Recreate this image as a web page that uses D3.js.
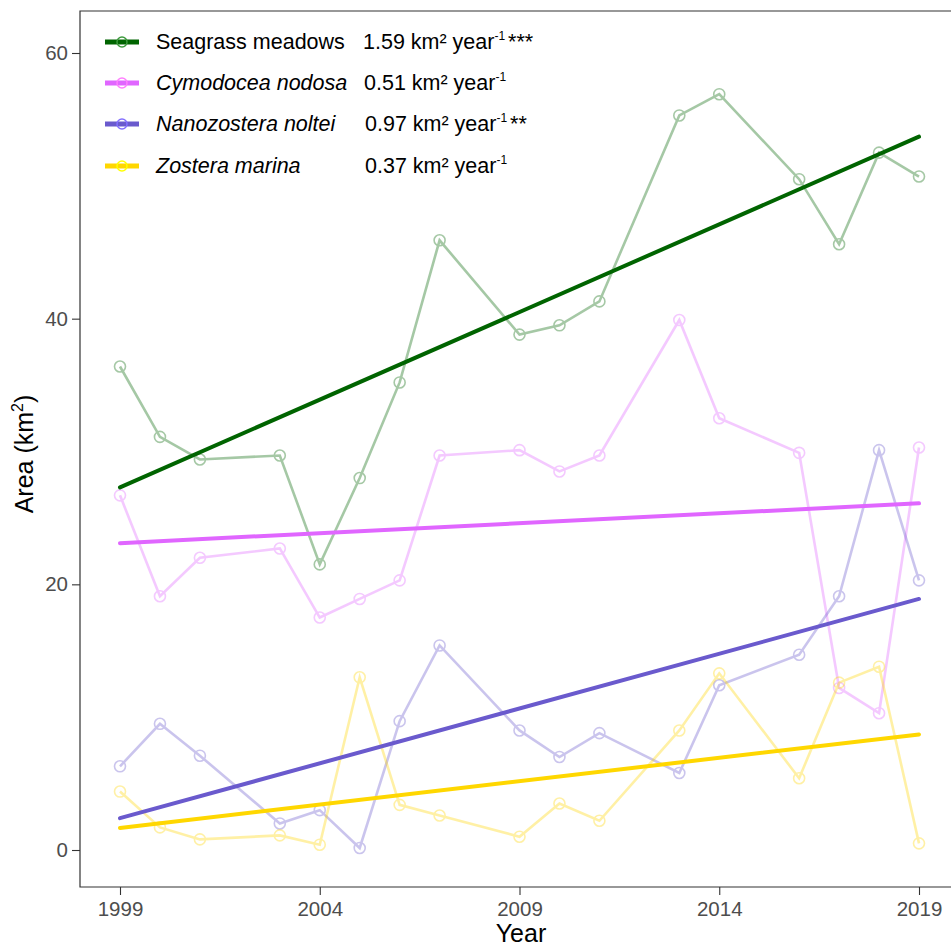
<!DOCTYPE html>
<html>
<head>
<meta charset="utf-8">
<script src="https://cdn.jsdelivr.net/npm/d3@7"></script>
<style>
  body { margin: 0; background: #fff; }
  svg { display: block; font-family: "Liberation Sans", Arial, sans-serif; }
</style>
</head>
<body>
<div id="chart"></div>
<script>
// seagrass area per year, with fitted linear trends
const years = [1999, 2000, 2001, 2003, 2004, 2005, 2006, 2007, 2009, 2010, 2011, 2013, 2014, 2016, 2017, 2018, 2019];
const seagrass = [36.4, 31.1, 29.4, 29.7, 21.5, 28.0, 35.2, 45.9, 38.8, 39.5, 41.3, 55.3, 56.9, 50.5, 45.6, 52.5, 50.7];
const cymodocea = [26.7, 19.1, 22.0, 22.7, 17.5, 18.9, 20.3, 29.7, 30.1, 28.5, 29.7, 39.9, 32.5, 29.9, 12.2, 10.3, 30.3];
const nanozostera = [6.3, 9.5, 7.1, 2.0, 3.0, 0.15, 9.7, 15.4, 9.0, 7.0, 8.8, 5.8, 12.4, 14.7, 19.1, 30.1, 20.3];
const zostera = [4.4, 1.7, 0.8, 1.1, 0.4, 13.0, 3.4, 2.6, 1.0, 3.5, 2.2, 9.0, 13.3, 5.4, 12.6, 13.8, 0.5];
// trend line values at 1999 and 2019
const trendStart = [27.3, 23.1, 2.4, 1.66];
const trendEnd = [53.7, 26.1, 18.9, 8.7];
const names = ["Seagrass meadows", "Cymodocea nodosa", "Nanozostera noltei", "Zostera marina"];
const italic = [false, true, true, true];
const rates = ["1.59", "0.51", "0.97", "0.37"];
const stars = ["***", "", "**", ""];
const colors = ["#006400", "#e066ff", "#6a5acd", "#ffd700"];
const xTicks = [1999, 2004, 2009, 2014, 2019];
const yTicks = [0, 20, 40, 60];

const W = 951, H = 947;
const margin = { top: 11, right: 0, bottom: 60, left: 80 };
const series = [seagrass, cymodocea, nanozostera, zostera];

const svg = d3.select("#chart").append("svg").attr("width", W).attr("height", H);

const x = d3.scaleLinear().domain([1999, 2019]).range([120, 919]);
const y = d3.scaleLinear().domain([0, 60]).range([850, 53]);

// panel frame (left, top, bottom)
svg.append("path").attr("fill", "none").attr("stroke", "#333").attr("stroke-width", 1.2)
  .attr("d", `M${W},${margin.top}H${margin.left}V${H - margin.bottom}H${W}`);

const gx = svg.append("g").attr("transform", `translate(0,${H - margin.bottom})`)
  .call(d3.axisBottom(x).tickValues(xTicks).tickFormat(d3.format("d")).tickSize(8).tickPadding(6));
const gy = svg.append("g").attr("transform", `translate(${margin.left},0)`)
  .call(d3.axisLeft(y).tickValues(yTicks).tickSize(8).tickPadding(4));
[gx, gy].forEach(g => {
  g.select(".domain").remove();
  g.selectAll(".tick line").attr("stroke", "#333").attr("stroke-width", 1.1);
  g.selectAll(".tick text").attr("fill", "#4d4d4d").attr("font-size", 20.5)
    .attr("font-family", "'Liberation Sans', Arial, sans-serif");
});

svg.append("text").attr("x", 521).attr("y", 942).attr("text-anchor", "middle")
  .attr("font-size", 25).attr("fill", "#000").text("Year");
const yt = svg.append("text").attr("transform", "translate(33,454) rotate(-90)").attr("text-anchor", "middle")
  .attr("font-size", 25).attr("fill", "#000");
yt.append("tspan").text("Area (km");
yt.append("tspan").attr("dy", -10).attr("font-size", 16).text("2");
yt.append("tspan").attr("dy", 10).text(")");

const line = d3.line().x((d, i) => x(years[i])).y(d => y(d));

// observed series, faded
series.forEach((vals, s) => {
  const g = svg.append("g").attr("opacity", 0.35);
  g.append("path").attr("fill", "none").attr("stroke", colors[s]).attr("stroke-width", 2.6)
    .attr("d", line(vals));
  g.selectAll("circle").data(vals).join("circle")
    .attr("cx", (d, i) => x(years[i])).attr("cy", d => y(d)).attr("r", 5.5)
    .attr("fill", "none").attr("stroke", colors[s]).attr("stroke-width", 1.6);
});

// trend lines
series.forEach((vals, s) => {
  svg.append("line")
    .attr("x1", x(1999)).attr("y1", y(trendStart[s]))
    .attr("x2", x(2019)).attr("y2", y(trendEnd[s]))
    .attr("stroke", colors[s]).attr("stroke-width", 4).attr("stroke-linecap", "round");
});

// legend
const leg = svg.append("g");
const legY = [42, 83, 124, 166];
const rateX = [363, 364, 365, 365];
names.forEach((n, i) => {
  const row = leg.append("g").attr("transform", `translate(0,${legY[i]})`);
  row.append("line").attr("x1", 105).attr("x2", 139).attr("stroke", colors[i]).attr("stroke-width", 5);
  row.append("circle").attr("cx", 122).attr("r", 5).attr("fill", "none")
    .attr("stroke", i === 0 ? "#3c9a3c" : d3.color(colors[i]).brighter(0.6)).attr("stroke-width", 1.5);
  row.append("text").attr("x", 156).attr("y", 7).attr("font-size", 21.5)
    .attr("font-style", italic[i] ? "italic" : "normal").attr("fill", "#000").text(n);
  const t = row.append("text").attr("x", rateX[i]).attr("y", 7).attr("font-size", 21.5).attr("fill", "#000");
  t.append("tspan").text(`${rates[i]} km² year`);
  t.append("tspan").attr("dy", -9).attr("font-size", 12).text("-1");
  if (stars[i]) t.append("tspan").attr("dy", 9).attr("dx", 3).attr("font-size", 21.5).text(stars[i]);
});
</script>
</body>
</html>
